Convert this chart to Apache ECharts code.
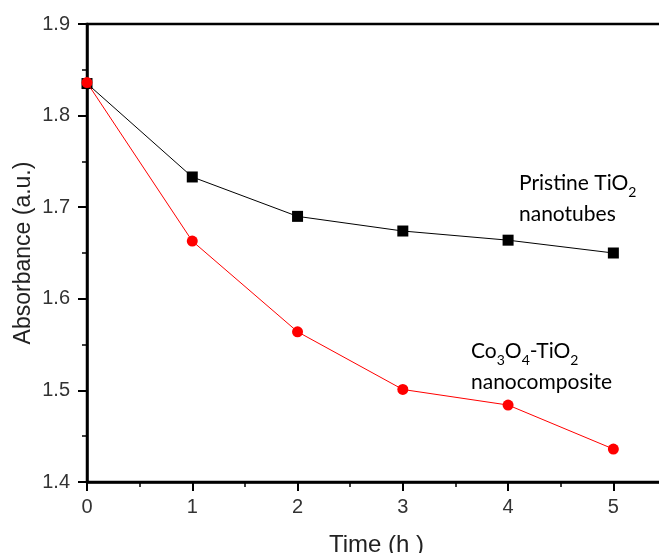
<!DOCTYPE html>
<html>
<head>
<meta charset="utf-8">
<script src="https://cdn.jsdelivr.net/npm/echarts@6/dist/echarts.min.js"></script>
<style>
  html, body { margin: 0; padding: 0; background: #fff; }
  #chart { width: 659px; height: 553px; }
</style>
</head>
<body>
<div id="chart"></div>
<script>
// Absorbance vs. irradiation time for the two photocatalyst samples
const timeHours = [0, 1, 2, 3, 4, 5];
const pristineTiO2 = [1.835, 1.733, 1.690, 1.674, 1.664, 1.650];
const co3o4TiO2 = [1.836, 1.663, 1.564, 1.501, 1.484, 1.436];
const yTicks = [1.4, 1.5, 1.6, 1.7, 1.8, 1.9];
const xTicks = [0, 1, 2, 3, 4, 5];

const pairs = (xs, ys) => xs.map((x, i) => [x, ys[i]]);

const chart = echarts.init(document.getElementById('chart'));
const axisFont = '"Liberation Sans", Arial, sans-serif';
const noteFont = 'Lato, "Open Sans", sans-serif';

chart.setOption({
  animation: false,
  backgroundColor: '#fff',
  grid: { left: 87, top: 24, width: 579, height: 458, outerBoundsMode: 'none', containLabel: false,
    show: true, borderColor: '#000', borderWidth: 2.5, backgroundColor: 'transparent' },
  xAxis: {
    type: 'value', min: 0, max: 5.5, interval: 1,
    name: 'Time (h )', nameLocation: 'middle', nameGap: 51, nameMoveOverlap: false,
    nameTextStyle: { fontFamily: axisFont, fontSize: 24, color: '#222' },
    axisLine: { show: true, lineStyle: { color: '#000', width: 2.5 } },
    axisTick: { show: true, length: 9, lineStyle: { color: '#000', width: 2 } },
    minorTick: { show: true, splitNumber: 2, length: 5, lineStyle: { color: '#000', width: 1.5 } },
    axisLabel: { margin: 15, fontFamily: axisFont, fontSize: 20, color: '#333',
      formatter: v => xTicks.includes(v) ? String(v) : '' },
    splitLine: { show: false }
  },
  yAxis: {
    type: 'value', min: 1.4, max: 1.9, interval: 0.1,
    name: 'Absorbance (a.u.)', nameLocation: 'middle', nameGap: 52, nameRotate: 90, nameMoveOverlap: false,
    nameTextStyle: { fontFamily: axisFont, fontSize: 23, color: '#222' },
    axisLine: { show: true, lineStyle: { color: '#000', width: 2.5 } },
    axisTick: { show: true, length: 9, lineStyle: { color: '#000', width: 2 } },
    minorTick: { show: true, splitNumber: 2, length: 5, lineStyle: { color: '#000', width: 1.5 } },
    axisLabel: { margin: 17, fontFamily: axisFont, fontSize: 20, color: '#333',
      formatter: v => { const t = yTicks.find(k => Math.abs(k - v) < 1e-6); return t !== undefined ? t.toFixed(1) : ''; } },
    splitLine: { show: false }
  },
  series: [
    {
      name: 'Pristine TiO2 nanotubes', type: 'line', data: pairs(timeHours, pristineTiO2),
      symbol: 'rect', symbolSize: 11, z: 3,
      lineStyle: { color: '#000', width: 1 }, itemStyle: { color: '#000' }
    },
    {
      name: 'Co3O4-TiO2 nanocomposite', type: 'line', data: pairs(timeHours, co3o4TiO2),
      symbol: 'circle', symbolSize: 11, z: 4,
      lineStyle: { color: '#ff0000', width: 1 }, itemStyle: { color: '#ff0000' }
    }
  ],
  graphic: [
    {
      type: 'text', left: 519, top: 168,
      style: {
        text: '{n|Pristine TiO}{s|2}\n{n|nanotubes}',
        lineHeight: 31,
        rich: {
          n: { fontFamily: noteFont, fontSize: 21, color: '#222', lineHeight: 31 },
          s: { fontFamily: noteFont, fontSize: 14, color: '#222', verticalAlign: 'bottom', lineHeight: 22, padding: [8, 0, 0, 0] }
        }
      }
    },
    {
      type: 'text', left: 471, top: 336,
      style: {
        text: '{n|Co}{s|3}{n|O}{s|4}{n|-TiO}{s|2}\n{n|nanocomposite}',
        lineHeight: 31,
        rich: {
          n: { fontFamily: noteFont, fontSize: 21, color: '#222', lineHeight: 31 },
          s: { fontFamily: noteFont, fontSize: 14, color: '#222', verticalAlign: 'bottom', lineHeight: 22, padding: [8, 0, 0, 0] }
        }
      }
    }
  ]
});
</script>
</body>
</html>
